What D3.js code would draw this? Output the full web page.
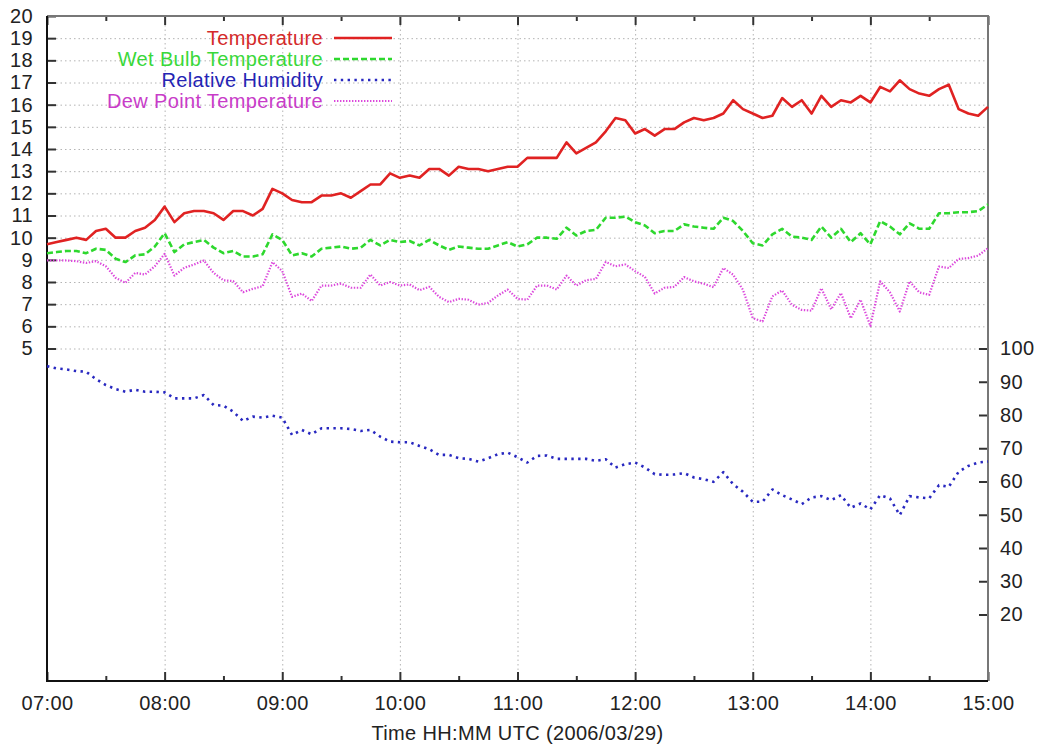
<!DOCTYPE html>
<html>
<head>
<meta charset="utf-8">
<script src="https://cdn.jsdelivr.net/npm/d3@7"></script>
<style>
  body { margin: 0; background: #fff; }
  svg { display: block; }
</style>
</head>
<body>
<script>
// 5-minute readings, 07:00 - 15:00 UTC, 2006/03/29
const temperature = [
  9.7, 9.8, 9.9, 10.0, 9.9, 10.3, 10.4, 10.0, 10.0, 10.3, 10.45, 10.8,
  11.4, 10.7, 11.1, 11.2, 11.2, 11.1, 10.8, 11.2, 11.2, 11.0, 11.3, 12.2,
  12.0, 11.7, 11.6, 11.6, 11.9, 11.9, 12.0, 11.8, 12.1, 12.4, 12.4, 12.9,
  12.7, 12.8, 12.7, 13.1, 13.1, 12.8, 13.2, 13.1, 13.1, 13.0, 13.1, 13.2,
  13.2, 13.6, 13.6, 13.6, 13.6, 14.3, 13.8, 14.05, 14.3, 14.8, 15.4, 15.3,
  14.7, 14.9, 14.6, 14.9, 14.9, 15.2, 15.4, 15.3, 15.4, 15.6, 16.2, 15.8,
  15.6, 15.4, 15.5, 16.3, 15.9, 16.2, 15.6, 16.4, 15.9, 16.2, 16.1, 16.4,
  16.1, 16.8, 16.6, 17.1, 16.7, 16.5, 16.4, 16.7, 16.9, 15.8, 15.6, 15.5,
  15.9
];
const wetBulb = [
  9.3, 9.35, 9.4, 9.4, 9.3, 9.5, 9.45, 9.05, 8.9, 9.2, 9.25, 9.6,
  10.2, 9.35, 9.7, 9.8, 9.9, 9.55, 9.3, 9.4, 9.15, 9.15, 9.25, 10.15,
  9.9, 9.2, 9.3, 9.15, 9.5, 9.55, 9.6, 9.5, 9.55, 9.9, 9.65, 9.9,
  9.8, 9.85, 9.65, 9.9, 9.65, 9.45, 9.6, 9.55, 9.5, 9.5, 9.65, 9.8,
  9.6, 9.7, 10.0, 10.0, 9.95, 10.45, 10.1, 10.3, 10.35, 10.9, 10.9, 10.95,
  10.7, 10.55, 10.2, 10.3, 10.3, 10.6, 10.5, 10.45, 10.4, 10.9, 10.75, 10.3,
  9.75, 9.65, 10.15, 10.4, 10.05, 10.0, 9.9, 10.5, 10.0, 10.4, 9.8, 10.2,
  9.7, 10.75, 10.5, 10.15, 10.65, 10.4, 10.4, 11.1, 11.1, 11.15, 11.15, 11.2,
  11.5
];
const humidity = [
  94.7, 94.0, 93.7, 93.2, 93.0, 90.8, 89.0, 87.8, 87.0, 87.6, 87.0, 87.0,
  86.8, 85.0, 85.0, 85.0, 86.0, 83.0, 82.8, 81.0, 78.2, 79.5, 79.2, 79.8,
  79.2, 74.0, 75.5, 74.2, 76.0, 76.0, 76.0, 75.8, 75.2, 75.5, 73.5, 72.0,
  71.8, 71.8, 70.7, 69.7, 68.0, 68.0, 67.0, 66.8, 66.0, 67.0, 68.2, 68.7,
  67.3, 65.7, 67.7, 67.8, 66.8, 66.8, 66.8, 66.8, 66.2, 66.7, 64.2, 65.2,
  65.7, 64.2, 62.2, 62.0, 62.1, 62.5, 61.2, 60.7, 59.9, 62.8, 59.2, 56.9,
  53.9, 53.9, 57.6, 55.9, 54.6, 53.2, 55.2, 55.6, 54.4, 55.9, 52.1, 53.4,
  51.6, 55.9, 54.9, 49.9, 55.6, 55.2, 54.9, 58.9, 58.4, 62.9, 64.7, 65.7,
  66.0
];
const dewPoint = [
  8.98, 8.98, 8.97, 8.94, 8.86, 8.94, 8.71, 8.19, 7.96, 8.41, 8.34, 8.71,
  9.27, 8.29, 8.64, 8.79, 8.97, 8.41, 8.08, 8.04, 7.54, 7.69, 7.81, 8.9,
  8.49, 7.33, 7.48, 7.14, 7.84, 7.84, 7.93, 7.74, 7.74, 8.34, 7.84, 8.0,
  7.84, 7.89, 7.63, 7.78, 7.33, 7.09, 7.24, 7.2, 6.98, 7.06, 7.39, 7.66,
  7.24, 7.2, 7.84, 7.84, 7.66, 8.29, 7.84, 8.08, 8.14, 8.9, 8.71, 8.79,
  8.49, 8.23, 7.48, 7.74, 7.78, 8.22, 8.03, 7.92, 7.77, 8.63, 8.33, 7.65,
  6.37, 6.22, 7.35, 7.62, 6.97, 6.74, 6.71, 7.72, 6.77, 7.5, 6.37, 7.2,
  6.02, 8.03, 7.53, 6.67, 8.03, 7.53, 7.42, 8.7, 8.63, 9.04, 9.08, 9.19,
  9.53
];
const leftTicks = [5, 6, 7, 8, 9, 10, 11, 12, 13, 14, 15, 16, 17, 18, 19, 20];
const rightTicks = [20, 30, 40, 50, 60, 70, 80, 90, 100];
const hourLabels = ["07:00", "08:00", "09:00", "10:00", "11:00", "12:00", "13:00", "14:00", "15:00"];

const width = 1037;
const height = 744;
const marginTop = 16;
const marginRight = 49;
const marginBottom = 63;
const marginLeft = 47;
const font = `"Liberation Sans", Arial, sans-serif`;
const fontSize = 20;
const letterSpacing = 0.35;

const start = Date.UTC(2006, 2, 29, 7, 0);
const times = temperature.map((d, i) => new Date(start + i * 5 * 60000));
const hours = hourLabels.map(s => new Date(Date.UTC(2006, 2, 29, +s.slice(0, 2), 0)));
const halfHours = hours.slice(0, -1).map(d => new Date(+d + 30 * 60000));

// Scales: left is temperature, right is humidity (stretched so 100 sits at temp 5)
const x = d3.scaleUtc()
  .domain([hours[0], hours[hours.length - 1]])
  .range([marginLeft, width - marginRight]);

const y = d3.scaleLinear()
  .domain([-10, 20])
  .range([height - marginBottom, marginTop]);

const y2 = d3.scaleLinear()
  .domain([0, 200])
  .range([height - marginBottom, marginTop]);

const svg = d3.create("svg")
  .attr("width", width)
  .attr("height", height)
  .attr("viewBox", [0, 0, width, height])
  .attr("style", `font-family: ${font}; letter-spacing: ${letterSpacing}px;`);

// grid
const grid = svg.append("g")
  .attr("stroke", "#b4b4b4")
  .attr("stroke-width", 1)
  .attr("stroke-dasharray", "1.5,3");
grid.selectAll(".h")
  .data(leftTicks.slice(0, -1))
  .join("line")
  .attr("x1", x.range()[0]).attr("x2", x.range()[1])
  .attr("y1", d => y(d) + 0.5).attr("y2", d => y(d) + 0.5);
grid.selectAll(".v")
  .data(hours.slice(1, -1))
  .join("line")
  .attr("x1", d => x(d) + 0.5).attr("x2", d => x(d) + 0.5)
  .attr("y1", marginTop).attr("y2", height - marginBottom);

// axes (ticks point inward)
const styleAxis = g => {
  g.select(".domain").remove();
  g.selectAll(".tick line").attr("stroke", "#333").attr("stroke-width", 2);
  g.selectAll(".tick text").attr("fill", "#222").attr("font-size", fontSize).attr("font-family", font);
};

svg.append("g")
  .attr("transform", `translate(${marginLeft},0)`)
  .call(d3.axisLeft(y).tickValues(leftTicks).tickSize(-9).tickPadding(14))
  .call(styleAxis);

svg.append("g")
  .attr("transform", `translate(${width - marginRight},0)`)
  .call(d3.axisRight(y2).tickValues(rightTicks).tickSize(-9).tickPadding(12))
  .call(styleAxis);

svg.append("g")
  .attr("transform", `translate(0,${height - marginBottom})`)
  .call(d3.axisBottom(x).tickValues(hours).tickSize(-9).tickPadding(15).tickFormat(d3.utcFormat("%H:%M")))
  .call(styleAxis);

svg.append("g")
  .attr("transform", `translate(0,${height - marginBottom})`)
  .call(d3.axisBottom(x).tickValues(halfHours).tickSize(-5).tickFormat(""))
  .call(styleAxis);

svg.append("g")
  .attr("transform", `translate(0,${marginTop})`)
  .call(d3.axisTop(x).tickValues(hours).tickSize(-9).tickFormat(""))
  .call(styleAxis);

svg.append("g")
  .attr("transform", `translate(0,${marginTop})`)
  .call(d3.axisTop(x).tickValues(halfHours).tickSize(-5).tickFormat(""))
  .call(styleAxis);

// frame: left and bottom darker than top and right
const [x0, x1] = x.range();
const [b, t] = y.range();
svg.append("path")
  .attr("fill", "none").attr("stroke", "#777").attr("stroke-width", 2)
  .attr("d", `M${x0},${t}H${x1}V${b}`);
svg.append("path")
  .attr("fill", "none").attr("stroke", "#111").attr("stroke-width", 2)
  .attr("d", `M${x0},${t}V${b}H${x1}`);

// series
const series = [
  {name: "Temperature", values: temperature, scale: y, color: "#e02222", text: "#d42a2a", dash: null, w: 2.6},
  {name: "Wet Bulb Temperature", values: wetBulb, scale: y, color: "#2ed82e", text: "#3ad83a", dash: "6,3", w: 2.6},
  {name: "Relative Humidity", values: humidity, scale: y2, color: "#2828c0", text: "#2424b4", dash: "2.4,4.4", w: 2.6},
  {name: "Dew Point Temperature", values: dewPoint, scale: y, color: "#dc48dc", text: "#c83cc8", dash: "1.4,1.6", w: 2.2}
];

svg.append("g")
  .attr("fill", "none")
  .selectAll()
  .data(series)
  .join("path")
  .attr("stroke", d => d.color)
  .attr("stroke-width", d => d.w)
  .attr("stroke-dasharray", d => d.dash)
  .attr("stroke-linejoin", "round")
  .attr("d", d => d3.line()
    .x((v, i) => x(times[i]))
    .y(v => d.scale(v))(d.values));

// legend
const legend = svg.append("g")
  .selectAll()
  .data(series)
  .join("g")
  .attr("transform", (d, i) => `translate(0,${38 + i * 21})`);

legend.append("text")
  .attr("x", 323)
  .attr("dy", "0.35em")
  .attr("text-anchor", "end")
  .attr("font-size", fontSize)
  .attr("fill", d => d.text)
  .text(d => d.name);

legend.append("line")
  .attr("x1", 334).attr("x2", 392)
  .attr("stroke", d => d.color)
  .attr("stroke-width", d => d.w)
  .attr("stroke-dasharray", d => d.dash);

// x axis title
svg.append("text")
  .attr("x", (x0 + x1) / 2)
  .attr("y", 740)
  .attr("text-anchor", "middle")
  .attr("font-size", fontSize)
  .attr("fill", "#222")
  .text("Time HH:MM UTC (2006/03/29)");

document.body.appendChild(svg.node());
</script>
</body>
</html>
